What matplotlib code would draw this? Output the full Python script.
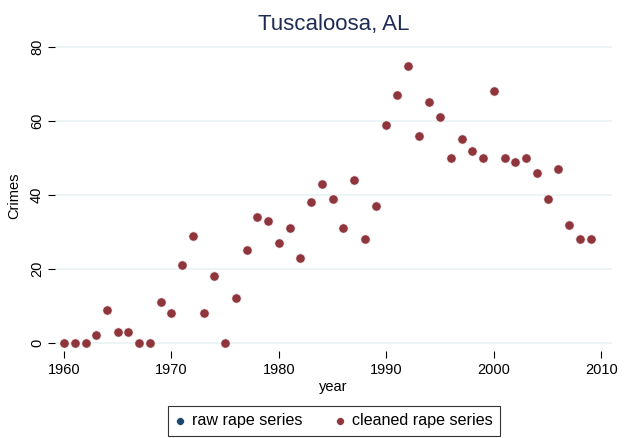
import matplotlib
matplotlib.use("Agg")
import matplotlib.pyplot as plt

plt.rcParams['font.family'] = ['Liberation Sans', 'DejaVu Sans']

# Data
years = list(range(1960, 2010))
cleaned = [0, 0, 0, 2, 9, 3, 3, 0, 0, 11,
           8, 21, 29, 8, 18, 0, 12, 25, 34, 33,
           27, 31, 23, 38, 43, 39, 31, 44, 28, 37,
           59, 67, 75, 56, 65, 61, 50, 55, 52, 50,
           68, 50, 49, 50, 46, 39, 47, 32, 28, 28]
raw = list(cleaned)

W, H = 625, 438
fig = plt.figure(figsize=(W / 100, H / 100), dpi=100)
left, right, top, bottom = 55, 612, 40, 351
ax = fig.add_axes([left / W, 1 - bottom / H, (right - left) / W, (bottom - top) / H])

ax.scatter(years, raw, s=44, color="#1a476f", edgecolor="white", linewidth=0.4,
           label="raw rape series", zorder=3)
ax.scatter(years, cleaned, s=44, color="#90353b", edgecolor="white", linewidth=0.4,
           label="cleaned rape series", zorder=4)

ax.set_xlim(1959.16, 2011.0)
ax.set_ylim(-2.2, 81.9)
ax.set_xticks([1960, 1970, 1980, 1990, 2000, 2010])
ax.set_yticks([0, 20, 40, 60, 80])
ax.grid(axis="y", color="#eaf2f3", linewidth=1.2)
ax.set_axisbelow(True)
for s in ax.spines.values():
    s.set_visible(False)
ax.tick_params(axis="both", labelsize=10.5, length=5, width=0.8, color="black")
ax.tick_params(axis="y", pad=3)
plt.setp(ax.get_yticklabels(), rotation=90, va="center")

ax.set_xlabel("year", fontsize=10.5, labelpad=2)
ax.set_ylabel("Crimes", fontsize=10.5, labelpad=6)
ax.set_title("Tuscaloosa, AL", fontsize=16, color="#1e2c55", pad=7)

leg = fig.legend(loc="center", bbox_to_anchor=(334 / W, 1 - 421 / H), ncol=2,
                 frameon=True, fancybox=False, edgecolor="black", fontsize=11.6,
                 handletextpad=0.45, columnspacing=2.0, borderpad=0.45,
                 handlelength=0.6, markerscale=0.85)
leg.get_frame().set_linewidth(0.8)

fig.savefig("out.png", dpi=100)
